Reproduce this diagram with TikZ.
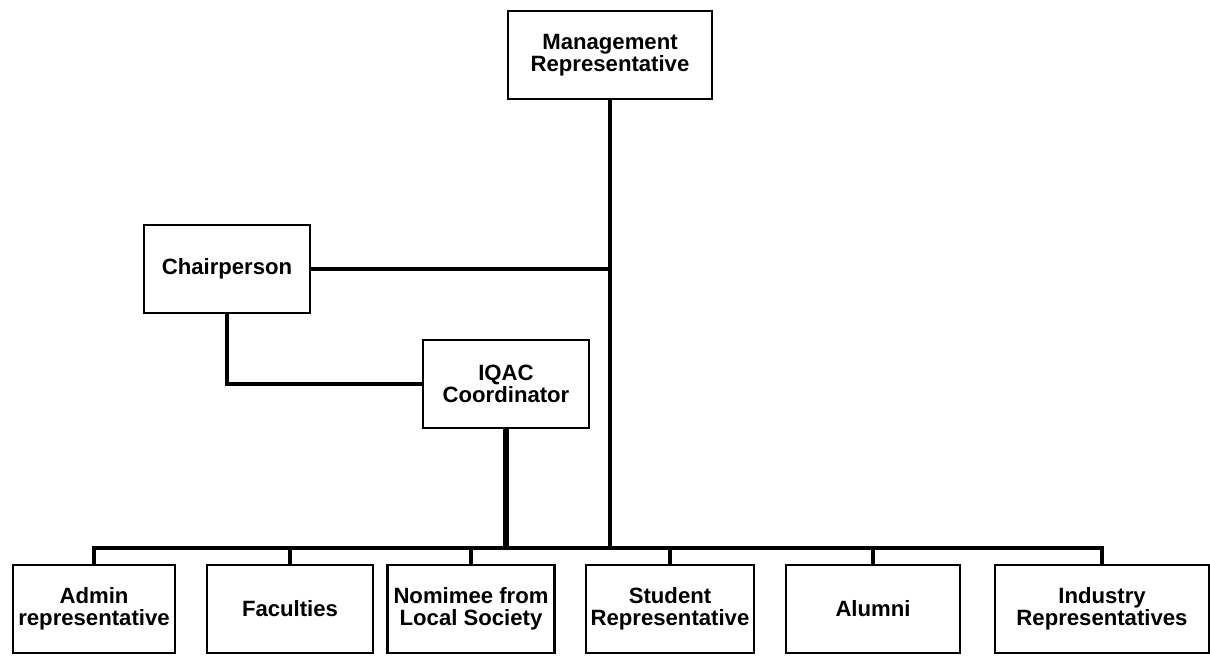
\documentclass[tikz,border=0pt]{standalone}
\usepackage{fontspec}
\setmainfont{Liberation Sans}

\begin{document}
\begin{tikzpicture}[x=0.02cm, y=-0.02cm,
    box/.style={draw, fill=white, line width=1.3pt, align=center,
        minimum height=1.76cm, inner sep=2pt,
        font=\fontsize{12.6}{12.8}\selectfont\bfseries},
    link/.style={line width=2pt, line cap=rect},
    mainlink/.style={line width=3.2pt}]
    
    \useasboundingbox (0,0) rectangle (1210,663);
    
    \coordinate (busL) at (94,548);
    \coordinate (busR) at (1102,548);
    
    \node[box, minimum width=4.08cm] (mr) at (610,55) {Management\\Representative};
    \node[box, minimum width=3.32cm] (chair) at (227,269) {Chairperson};
    \node[box, minimum width=3.32cm] (iqac) at (506,384) {IQAC\\Coordinator};
    
    \node[box, minimum width=3.24cm] (admin) at (94,609) {Admin\\representative};
    \node[box, minimum width=3.32cm] (fac) at (290,609) {Faculties};
    \node[box, minimum width=3.34cm] (nom) at (471,609) {Nomimee from\\Local Society};
    \node[box, minimum width=3.36cm] (stud) at (670,609) {Student\\Representative};
    \node[box, minimum width=3.48cm] (alum) at (873,609) {Alumni};
    \node[box, minimum width=4.28cm] (ind) at (1102,609) {Industry\\Representatives};
    
    \draw[link] (busL) -- (busR);
    \draw[link] (mr) -- (mr.south |- busL);
    \draw[link] (chair) -- (chair -| mr.south);
    \draw[link] (chair) |- (iqac);
    \draw[mainlink] (iqac) -- (iqac |- busL);
    
    \foreach \n in {admin,fac,nom,stud,alum,ind}
        \draw[link] (\n) -- (\n |- busL);
    
\end{tikzpicture}
\end{document}
